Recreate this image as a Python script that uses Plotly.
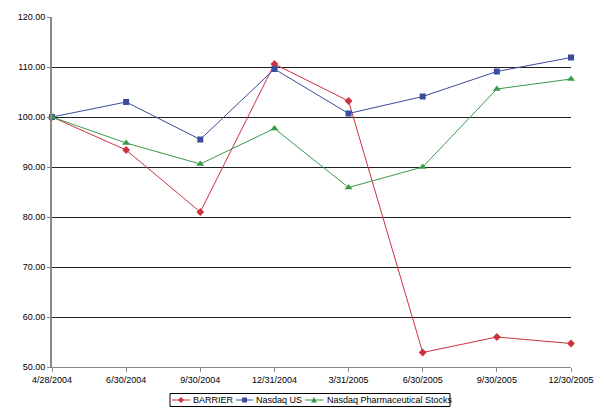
import plotly.graph_objects as go

dates = ["4/28/2004", "6/30/2004", "9/30/2004", "12/31/2004", "3/31/2005",
         "6/30/2005", "9/30/2005", "12/30/2005"]
barrier = [100.0, 93.4, 81.0, 110.6, 103.2, 52.9, 56.0, 54.7]
nasdaq_us = [100.0, 103.0, 95.5, 109.6, 100.7, 104.1, 109.1, 111.9]
nasdaq_pharma = [100.0, 94.8, 90.6, 97.7, 85.9, 90.0, 105.6, 107.6]

series = [
    ("BARRIER", barrier, "#CC3340", "diamond", 6),
    ("Nasdaq US", nasdaq_us, "#3A4C9C", "square", 6),
    ("Nasdaq Pharmaceutical Stocks", nasdaq_pharma, "#3A9A4A", "triangle-up", 7),
]

fig = go.Figure()
for name, vals, color, sym, sz in series:
    fig.add_trace(go.Scatter(
        x=dates, y=vals, name=name, mode="lines+markers",
        line=dict(color=color, width=1),
        marker=dict(symbol=sym, size=sz, color=color),
        cliponaxis=False, showlegend=False,
    ))

font = dict(family="Liberation Sans, Arial, sans-serif", size=9, color="#000")

# custom compact legend (paper coordinates relative to plot area)
L, R, T, B = 52, 571, 17, 367
def px(x):
    return (x - L) / (R - L)
def py(y):
    return (B - y) / (B - T)

legend_y = py(400)
shapes = [dict(type="rect", xref="paper", yref="paper",
               x0=px(170), x1=px(450), y0=py(406.5), y1=py(393.5),
               line=dict(color="#000", width=1), fillcolor="white")]
annotations = []
marker_paths = {
    "diamond": "M 0 3 L 3 0 L 0 -3 L -3 0 Z",
    "square": "M -2.5 -2.5 L 2.5 -2.5 L 2.5 2.5 L -2.5 2.5 Z",
    "triangle-up": "M -3 -2.5 L 3 -2.5 L 0 3 Z",
}
legend_pos = [(172, 190, 192), (236, 253, 255), (305, 323, 326)]
for (name, vals, color, sym, sz), (lx0, lx1, tx) in zip(series, legend_pos):
    shapes.append(dict(type="line", xref="paper", yref="paper",
                       x0=px(lx0), x1=px(lx1), y0=legend_y, y1=legend_y,
                       line=dict(color=color, width=1)))
    shapes.append(dict(type="path", xref="paper", yref="paper",
                       xsizemode="pixel", ysizemode="pixel",
                       xanchor=px((lx0 + lx1) / 2), yanchor=legend_y,
                       path=marker_paths[sym], fillcolor=color,
                       line=dict(color=color, width=0)))
    annotations.append(dict(text=name, xref="paper", yref="paper",
                            x=px(tx), y=legend_y, xanchor="left", yanchor="middle",
                            showarrow=False, font=font, borderpad=0))

fig.update_layout(
    width=605, height=414,
    margin=dict(l=52, r=34, t=17, b=47, autoexpand=False),
    paper_bgcolor="white", plot_bgcolor="white",
    font=font,
    showlegend=False,
    shapes=shapes, annotations=annotations,
    xaxis=dict(type="category", range=[0, 7], showgrid=False,
               showline=True, linecolor="#888", linewidth=1,
               ticks="outside", ticklen=4, tickcolor="#888",
               tickfont=font, automargin=False),
    yaxis=dict(range=[50, 120], dtick=10, tickformat=".2f",
               showgrid=True, gridcolor="#222", gridwidth=1,
               showline=True, linecolor="#888", linewidth=2,
               ticks="outside", ticklen=3, tickcolor="#888",
               zeroline=False, tickfont=font, automargin=False),
)
fig.write_html("out.html")
